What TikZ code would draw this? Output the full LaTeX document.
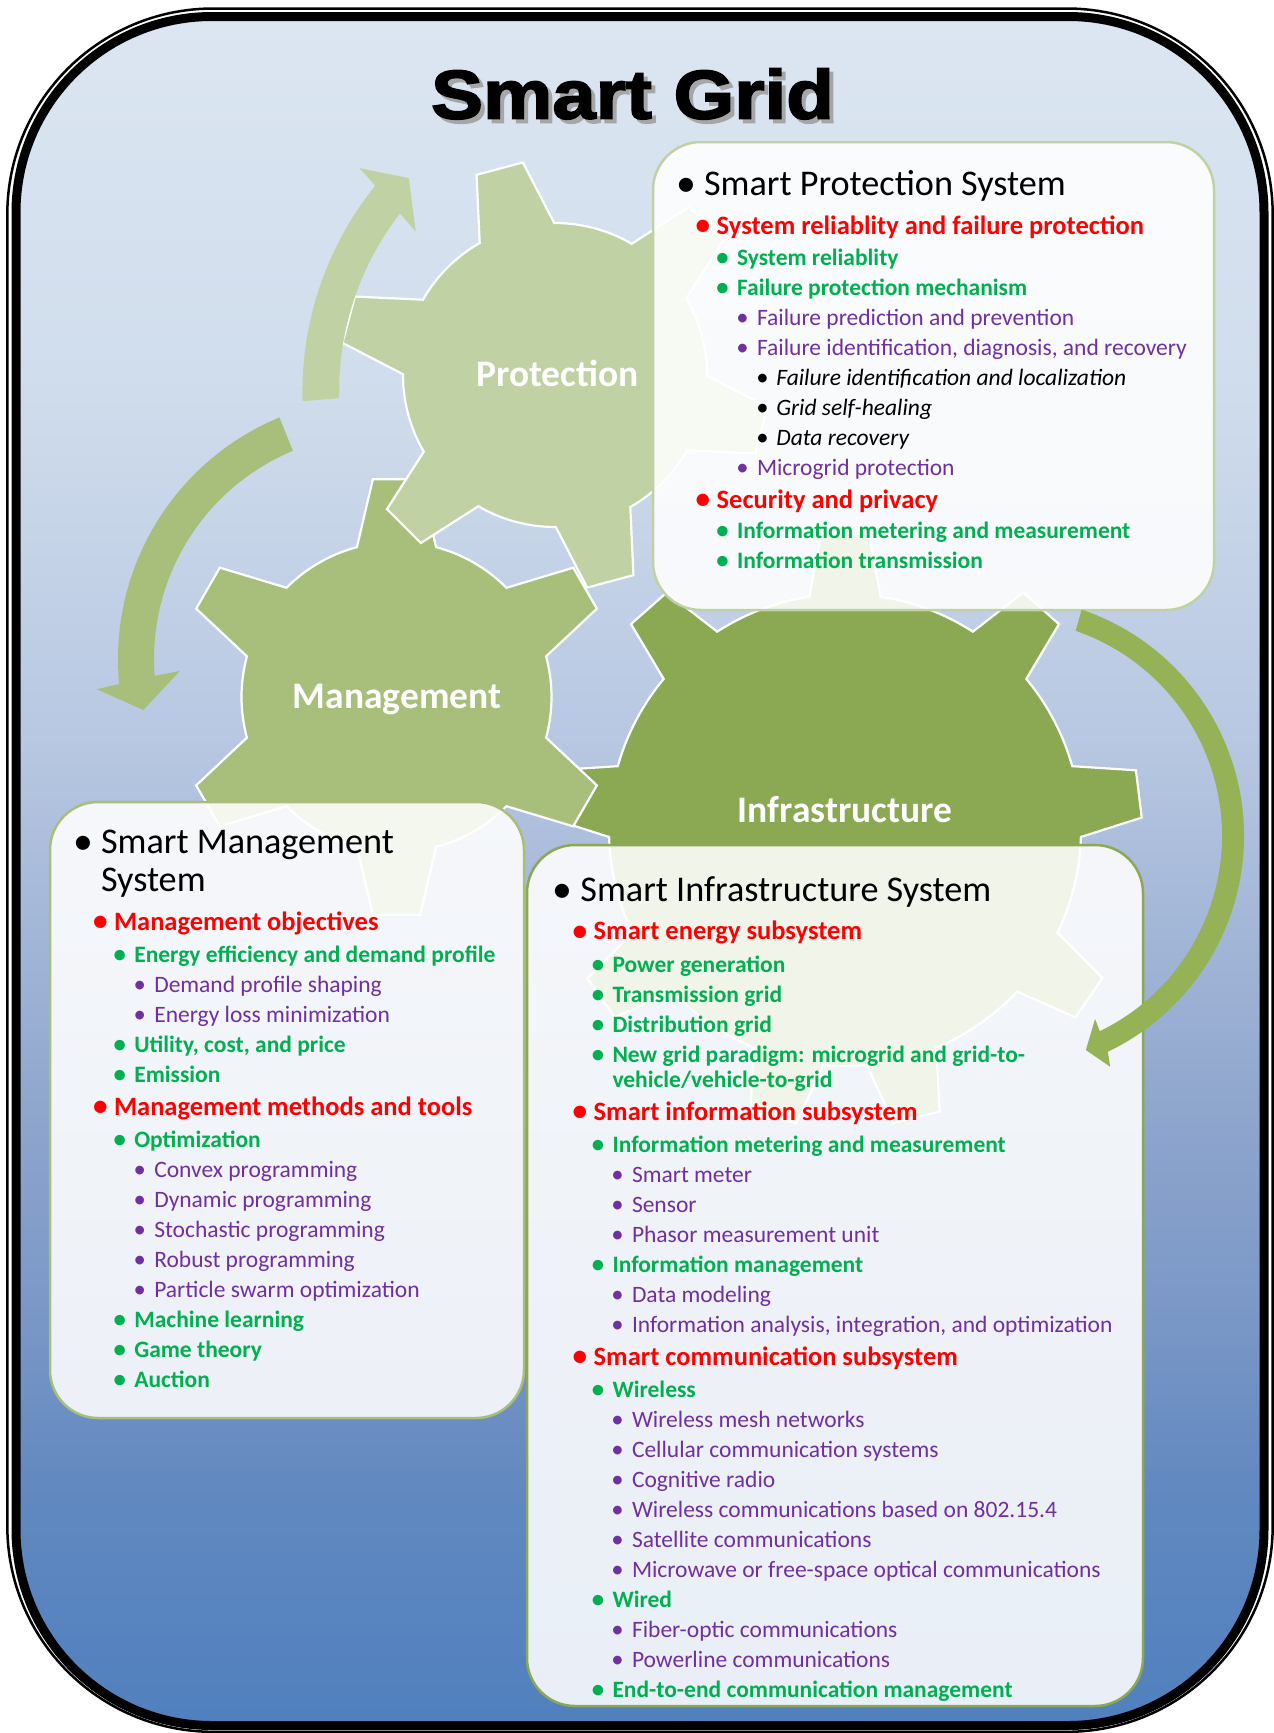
\documentclass[tikz,border=0pt]{standalone}
\usepackage{fontspec}
\usepackage{graphicx}
\setmainfont{Carlito}
\newfontfamily\titlefont{Liberation Sans}[FakeStretch=1.13,FakeBold=2.5]

\definecolor{bgA}{RGB}{80,128,190}
\definecolor{bgB}{RGB}{98,137,192}
\definecolor{bgC}{RGB}{120,150,198}
\definecolor{bgD}{RGB}{143,166,205}
\definecolor{bgE}{RGB}{184,200,226}
\definecolor{bgF}{RGB}{208,221,236}
\definecolor{bgG}{RGB}{220,230,242}
\definecolor{cProt}{RGB}{192,210,164}
\definecolor{cMan}{RGB}{168,191,123}
\definecolor{cInfra}{RGB}{139,168,82}
\definecolor{cArr}{RGB}{150,178,86}
\definecolor{cRed}{RGB}{255,0,0}
\definecolor{cGreen}{RGB}{0,176,80}
\definecolor{cPurple}{RGB}{112,48,160}

% the visible part of a vertical shading runs from 25bp to 75bp
\pgfdeclareverticalshading{bgshade}{100bp}{%
  color(0bp)=(bgA); color(25bp)=(bgA); color(32bp)=(bgB); color(36.5bp)=(bgC);
  color(43bp)=(bgD); color(54bp)=(bgE); color(64.5bp)=(bgF); color(75bp)=(bgG);
  color(100bp)=(bgG)}

% bullet glyph: scale, lowering, gap from dot centre to text
\newcommand\bul[3]{\llap{\upshape\makebox[0pt]{\raisebox{-#2em}{\scalebox{#1}{\textbullet}}}\hspace{#3pt}}}
% one bulleted line: name, x, baseline y, style, bullet, text
\newcommand\bline[6]{\node[txt,#4] (#1) at (#2,#3) {#5#6};}
\newcommand\LiHd[4]{\bline{#1}{#2}{#3}{hdtxt}{\bul{1.1}{0.03}{18}}{#4}}
\newcommand\LiRed[4]{\bline{#1}{#2}{#3}{redtxt}{\bul{1.1}{0.03}{13.7}}{#4}}
\newcommand\LiGrn[4]{\bline{#1}{#2}{#3}{greentxt}{\bul{1.05}{0.015}{14.5}}{#4}}
\newcommand\LiPur[4]{\bline{#1}{#2}{#3}{purpletxt}{\bul{1.05}{0.015}{14.6}}{#4}}
\newcommand\LiBlk[4]{\bline{#1}{#2}{#3}{blacktxt}{\bul{1.05}{0.015}{13.7}}{#4}}

\begin{document}
\begin{tikzpicture}[x=1pt,y=-1pt,
  txt/.style={anchor=base west,inner sep=0pt,outer sep=0pt},
  hdtxt/.style={font=\fontsize{36.2}{40}\selectfont,text=black},
  redtxt/.style={font=\bfseries\fontsize{26.5}{30}\selectfont,text=cRed},
  greentxt/.style={font=\bfseries\fontsize{23.5}{27}\selectfont,text=cGreen},
  purpletxt/.style={font=\fontsize{23.5}{27}\selectfont,text=cPurple},
  blacktxt/.style={font=\itshape\fontsize{23.5}{27}\selectfont,text=black},
  gearline/.style={draw=white,line width=2.2pt,line join=miter},
  gearlabel/.style={anchor=base,inner sep=0pt,text=white,font=\bfseries\fontsize{37.5}{40}\selectfont},
  infobox/.style={rectangle,rounded corners=48pt,line width=2.5pt,fill=white,fill opacity=0.88,inner sep=0pt}]

\useasboundingbox (0,0) rectangle (1274,1733);

% background panel and its double border
\shade[shading=bgshade,rounded corners=192pt] (19,20) rectangle (1260,1722);
\draw[line width=9pt,rounded corners=196pt] (16,16.5) rectangle (1264,1725.5);
\draw[line width=2.5pt,rounded corners=206pt] (7.3,8.5) rectangle (1272.7,1731.8);

% title with drop shadow
\node[anchor=base,inner sep=0pt,text=black,font=\titlefont\bfseries\fontsize{69}{72}\selectfont] (title) at (632.5,118.6)
  {\rlap{\hspace{4pt}\raisebox{-4pt}{\color{black!35}Smart Grid}}Smart Grid};

% infrastructure gear
\begin{scope}[shift={(845,830)}]
\filldraw[gearline,fill=cInfra] ({7-8.7}:236pt)
  \foreach \a/\n in {7/48.5,48.5/90,90/131.5,131.5/173,173/214.5,214.5/256,256/284,284/325.5,325.5/367}
  { -- ({\a-4.6}:297pt) -- ({\a+4.6}:297pt) -- ({\a+8.7}:236pt)
    arc[start angle={\a+8.7},end angle={\n-8.7},radius=236pt] } -- cycle;
\end{scope}

% management gear
\begin{scope}[shift={(396.5,697)}]
\filldraw[gearline,fill=cMan] ({30-14.8}:155pt)
  \foreach \a in {30,90,...,330}
  { -- ({\a-6.2}:219pt) -- ({\a+6.2}:219pt) -- ({\a+14.8}:155pt)
    arc[start angle={\a+14.8},end angle={\a+60-14.8},radius=155pt] } -- cycle;
\end{scope}

% protection gear
\begin{scope}[shift={(555,375)}]
\filldraw[gearline,fill=cProt] ({45-14.7}:152pt)
  \foreach \a in {45,105,...,345}
  { -- ({\a-6.4}:215pt) -- ({\a+6.4}:215pt) -- ({\a+14.7}:152pt)
    arc[start angle={\a+14.7},end angle={\a+60-14.7},radius=152pt] } -- cycle;
\end{scope}

% curved arrows on the left
\begin{scope}[shift={(631,392)}]
\fill[cProt] (181.6:328.6pt) arc[start angle=181.6,end angle=141.1,radius=328.6pt]
  -- (140.5:352pt) -- (136.1:308.4pt) -- (143.3:268.5pt) -- (142.3:292pt)
  arc[start angle=142.3,end angle=181.2,radius=292pt] -- cycle;
\end{scope}
\begin{scope}[shift={(379.5,659)}]
\fill[cMan] (112.5:261.5pt) arc[start angle=112.5,end angle=185.5,radius=261.5pt]
  -- (186.1:284.4pt) -- (192.2:241.6pt) -- (183.4:199.9pt) -- (184.3:225.5pt)
  arc[start angle=184.3,end angle=112.6,radius=225.5pt] -- cycle;
\end{scope}

% gear labels
\node[gearlabel] (lprot) at (557.4,386.7) {Protection};
\node[gearlabel] (lman) at (397,708.3) {Management};
\node[gearlabel] (linfra) at (845,822.5) {Infrastructure};

% translucent text panels
\node[infobox,draw=cProt,minimum width=561pt,minimum height=468pt] (pbox) at (933.5,376) {};
\node[infobox,draw=cMan,minimum width=474pt,minimum height=616pt] (mbox) at (287,1110) {};
\node[infobox,draw=cInfra,minimum width=616pt,minimum height=861pt] (ibox) at (835,1275.5) {};

% arrow on the right, above the infrastructure panel
\begin{scope}[shift={(1005,836)}]
\fill[cArr] (71.3:239pt) arc[start angle=71.3,end angle=-64.5,radius=239pt]
  -- (-65.5:253.5pt) -- (-69.3:228.8pt) -- (-63.8:204pt) -- (-64.1:217pt)
  arc[start angle=-64.1,end angle=71,radius=217pt] -- cycle;
\end{scope}

% protection panel
\LiHd{pb0}{704}{195.5}{Smart Protection System}
\LiRed{pb1}{716.7}{234}{System reliablity and failure protection}
\LiGrn{pb2}{737}{265.5}{System reliablity}
\LiGrn{pb3}{737}{295.5}{Failure protection mechanism}
\LiPur{pb4}{757}{325.5}{Failure prediction and prevention}
\LiPur{pb5}{757}{355.5}{Failure identification, diagnosis, and recovery}
\LiBlk{pb6}{776.3}{385.5}{Failure identification and localization}
\LiBlk{pb7}{776.3}{415.5}{Grid self-healing}
\LiBlk{pb8}{776.3}{445.5}{Data recovery}
\LiPur{pb9}{757}{475.5}{Microgrid protection}
\LiRed{pb10}{716.7}{508}{Security and privacy}
\LiGrn{pb11}{737}{538.5}{Information metering and measurement}
\LiGrn{pb12}{737}{568.5}{Information transmission}

% management panel
\LiHd{mb0}{101}{853}{Smart Management}
\node[txt,hdtxt] (mb0b) at (101,891.7) {System};
\LiRed{mb1}{114}{930}{Management objectives}
\LiGrn{mb2}{134.3}{962.5}{Energy efficiency and demand profile}
\LiPur{mb3}{154.3}{992.5}{Demand profile shaping}
\LiPur{mb4}{154.3}{1022.5}{Energy loss minimization}
\LiGrn{mb5}{134.3}{1052.5}{Utility, cost, and price}
\LiGrn{mb6}{134.3}{1082.5}{Emission}
\LiRed{mb7}{114}{1115}{Management methods and tools}
\LiGrn{mb8}{134.3}{1147.5}{Optimization}
\LiPur{mb9}{154.3}{1177.5}{Convex programming}
\LiPur{mb10}{154.3}{1207.5}{Dynamic programming}
\LiPur{mb11}{154.3}{1237.5}{Stochastic programming}
\LiPur{mb12}{154.3}{1267.5}{Robust programming}
\LiPur{mb13}{154.3}{1297.5}{Particle swarm optimization}
\LiGrn{mb14}{134.3}{1327.5}{Machine learning}
\LiGrn{mb15}{134.3}{1357.5}{Game theory}
\LiGrn{mb16}{134.3}{1387.5}{Auction}

% infrastructure panel
\LiHd{ib0}{580.4}{901}{Smart Infrastructure System}
\LiRed{ib1}{593.7}{939.5}{Smart energy subsystem}
\LiGrn{ib2}{612.5}{972}{Power generation}
\LiGrn{ib3}{612.5}{1002}{Transmission grid}
\LiGrn{ib4}{612.5}{1032}{Distribution grid}
\LiGrn{ib5}{612.5}{1062}{New grid paradigm: microgrid and grid-to-}
\node[txt,greentxt] (ib5b) at (612.5,1087.5) {vehicle/vehicle-to-grid};
\LiRed{ib6}{593.7}{1120}{Smart information subsystem}
\LiGrn{ib7}{612.5}{1152.5}{Information metering and measurement}
\LiPur{ib8}{632}{1182.5}{Smart meter}
\LiPur{ib9}{632}{1212.5}{Sensor}
\LiPur{ib10}{632}{1242.5}{Phasor measurement unit}
\LiGrn{ib11}{612.5}{1272.5}{Information management}
\LiPur{ib12}{632}{1302.5}{Data modeling}
\LiPur{ib13}{632}{1332.5}{Information analysis, integration, and optimization}
\LiRed{ib14}{593.7}{1365}{Smart communication subsystem}
\LiGrn{ib15}{612.5}{1397.5}{Wireless}
\LiPur{ib16}{632}{1427.5}{Wireless mesh networks}
\LiPur{ib17}{632}{1457.5}{Cellular communication systems}
\LiPur{ib18}{632}{1487.5}{Cognitive radio}
\LiPur{ib19}{632}{1517.5}{Wireless communications based on 802.15.4}
\LiPur{ib20}{632}{1547.5}{Satellite communications}
\LiPur{ib21}{632}{1577.5}{Microwave or free-space optical communications}
\LiGrn{ib22}{612.5}{1607.5}{Wired}
\LiPur{ib23}{632}{1637.5}{Fiber-optic communications}
\LiPur{ib24}{632}{1667.5}{Powerline communications}
\LiGrn{ib25}{612.5}{1697.5}{End-to-end communication management}

\end{tikzpicture}
\end{document}
